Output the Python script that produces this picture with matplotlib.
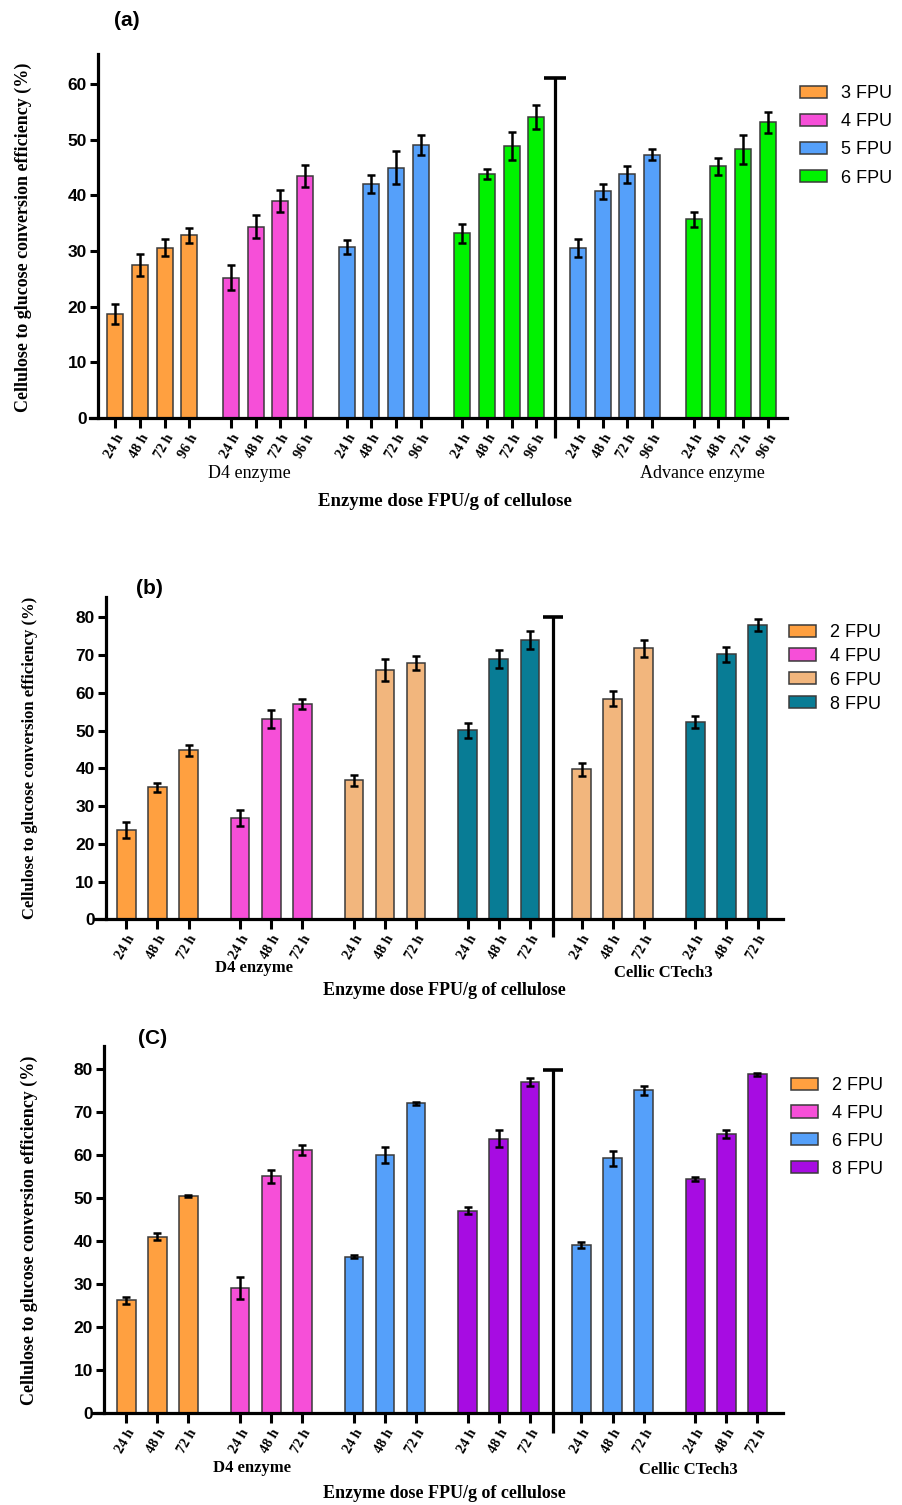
import matplotlib
matplotlib.use('Agg')
import matplotlib.pyplot as plt
from matplotlib.patches import Patch

# ---------------- data ----------------
hours_a = ['24 h', '48 h', '72 h', '96 h']
hours_bc = ['24 h', '48 h', '72 h']

# Panel (a): D4 enzyme 3,4,5,6 FPU ; Advance enzyme 5,6 FPU
a_legend = ['3 FPU', '4 FPU', '5 FPU', '6 FPU']
a_d4_3 = [18.7, 27.5, 30.6, 32.8]
a_d4_3_err = [1.8, 2.0, 1.5, 1.4]
a_d4_4 = [25.2, 34.4, 39.0, 43.5]
a_d4_4_err = [2.2, 2.1, 1.9, 2.0]
a_d4_5 = [30.7, 42.1, 45.0, 49.0]
a_d4_5_err = [1.3, 1.6, 3.0, 1.8]
a_d4_6 = [33.2, 43.8, 48.8, 54.1]
a_d4_6_err = [1.7, 0.9, 2.5, 2.2]
a_adv_5 = [30.6, 40.7, 43.8, 47.3]
a_adv_5_err = [1.6, 1.4, 1.5, 1.0]
a_adv_6 = [35.7, 45.2, 48.3, 53.1]
a_adv_6_err = [1.4, 1.5, 2.6, 1.9]

# Panel (b): D4 enzyme 2,4,6,8 FPU ; Cellic CTech3 6,8 FPU
b_legend = ['2 FPU', '4 FPU', '6 FPU', '8 FPU']
b_d4_2 = [23.6, 35.0, 44.8]
b_d4_2_err = [2.1, 1.2, 1.4]
b_d4_4 = [26.8, 53.0, 57.1]
b_d4_4_err = [2.1, 2.4, 1.3]
b_d4_6 = [36.8, 66.1, 68.0]
b_d4_6_err = [1.4, 3.0, 1.8]
b_d4_8 = [50.1, 69.0, 74.1]
b_d4_8_err = [2.0, 2.3, 2.4]
b_ct_6 = [39.8, 58.5, 71.8]
b_ct_6_err = [1.7, 2.0, 2.3]
b_ct_8 = [52.3, 70.3, 78.0]
b_ct_8_err = [1.6, 2.0, 1.7]

# Panel (c): D4 enzyme 2,4,6,8 FPU ; Cellic CTech3 6,8 FPU
c_legend = ['2 FPU', '4 FPU', '6 FPU', '8 FPU']
c_d4_2 = [26.2, 41.0, 50.5]
c_d4_2_err = [0.8, 0.8, 0.2]
c_d4_4 = [29.1, 55.0, 61.2]
c_d4_4_err = [2.5, 1.5, 1.1]
c_d4_6 = [36.4, 60.0, 72.0]
c_d4_6_err = [0.3, 1.8, 0.4]
c_d4_8 = [47.0, 63.8, 76.9]
c_d4_8_err = [0.8, 2.0, 1.0]
c_ct_6 = [39.1, 59.2, 75.0]
c_ct_6_err = [0.6, 1.8, 1.0]
c_ct_8 = [54.4, 64.9, 78.7]
c_ct_8_err = [0.5, 0.9, 0.3]

ylabel = 'Cellulose to glucose conversion efficiency (%)'
xlabel = 'Enzyme dose FPU/g of cellulose'

# ---------------- style ----------------
ORANGE = '#FFA040'
MAGENTA = '#F64FD8'
BLUE = '#55A0FA'
GREEN = '#00F200'
TAN = '#F2B67D'
TEAL = '#087C95'
PURPLE = '#A70CE2'
EDGE = '#3a3a3a'

SERIF = ['Liberation Serif', 'DejaVu Serif']
SANS = ['Liberation Sans', 'DejaVu Sans']
NARROW = ['Liberation Sans Narrow', 'Liberation Sans', 'DejaVu Sans']

W, H = 902, 1505
fig = plt.figure(figsize=(W / 100, H / 100), dpi=100)


def fx(px):
    return px / W


def fy(py):
    return 1 - py / H


def draw_panel(left_px, right_px, top_px, zero_px, first_px, spacing_px, spine_px,
               stride_px, divider_px, ymax, div_top, div_bottom_px, cap_px,
               groups, colors, hours, barw):
    ax = fig.add_axes([fx(left_px), fy(zero_px), (right_px - left_px) / W,
                       (zero_px - top_px) / H])
    x_lo = (left_px - first_px) / spacing_px
    x_hi = (right_px - first_px) / spacing_px
    stride = stride_px / spacing_px
    n = len(hours)
    ticks, labels = [], []
    for g, (vals, errs) in enumerate(groups):
        xs = [g * stride + i for i in range(n)]
        ax.bar(xs, vals, width=barw, color=colors[g], edgecolor=EDGE,
               linewidth=1.1, zorder=2)
        ax.errorbar(xs, vals, yerr=errs, fmt='none', ecolor='black',
                    elinewidth=1.8, capsize=3, capthick=1.8, zorder=3)
        ticks += xs
        labels += hours
    ax.set_xlim(x_lo, x_hi)
    ax.set_ylim(0, ymax)
    ax.spines['top'].set_visible(False)
    ax.spines['right'].set_visible(False)
    ax.spines['left'].set_position(('data', (spine_px - first_px) / spacing_px))
    for s in ('left', 'bottom'):
        ax.spines[s].set_linewidth(2.3)
    ax.set_yticks(range(0, int(ymax) + 1, 10))
    ax.tick_params(axis='y', length=6, width=2.2, pad=2)
    ax.tick_params(axis='x', length=7, width=2.2, pad=3)
    for t in ax.get_yticklabels():
        t.set_fontfamily(NARROW)
        t.set_fontweight('bold')
        t.set_fontsize(12.5)
    ax.set_xticks(ticks)
    ax.set_xticklabels(labels, rotation=60, ha='right', va='top',
                       rotation_mode='anchor', fontfamily=SERIF,
                       fontweight='bold', fontsize=10.2)
    # divider between enzymes
    xd = (divider_px - first_px) / spacing_px
    ppu = (zero_px - top_px) / ymax
    yb = -(div_bottom_px - zero_px) / ppu
    ax.plot([xd, xd], [yb, div_top], color='black', lw=2.3, clip_on=False,
            zorder=4, solid_capstyle='butt')
    ch = cap_px / spacing_px
    ax.plot([xd - ch, xd + ch], [div_top, div_top], color='black', lw=2.6,
            clip_on=False, zorder=4, solid_capstyle='butt')
    return ax


# ---------------- panel (a) ----------------
draw_panel(left_px=89.6, right_px=787, top_px=54, zero_px=418, first_px=115.3,
           spacing_px=24.67, spine_px=98, stride_px=115.7, divider_px=555,
           ymax=65.4, div_top=61, div_bottom_px=438, cap_px=11,
           groups=[(a_d4_3, a_d4_3_err), (a_d4_4, a_d4_4_err),
                   (a_d4_5, a_d4_5_err), (a_d4_6, a_d4_6_err),
                   (a_adv_5, a_adv_5_err), (a_adv_6, a_adv_6_err)],
           colors=[ORANGE, MAGENTA, BLUE, GREEN, BLUE, GREEN],
           hours=hours_a, barw=0.65)

# ---------------- panel (b) ----------------
draw_panel(left_px=95.4, right_px=783, top_px=596.7, zero_px=919.3, first_px=126.3,
           spacing_px=31.1, spine_px=105.8, stride_px=113.8, divider_px=553,
           ymax=85.5, div_top=80, div_bottom_px=937, cap_px=10,
           groups=[(b_d4_2, b_d4_2_err), (b_d4_4, b_d4_4_err),
                   (b_d4_6, b_d4_6_err), (b_d4_8, b_d4_8_err),
                   (b_ct_6, b_ct_6_err), (b_ct_8, b_ct_8_err)],
           colors=[ORANGE, MAGENTA, TAN, TEAL, TAN, TEAL],
           hours=hours_bc, barw=0.6)

# ---------------- panel (c) ----------------
draw_panel(left_px=92.5, right_px=783, top_px=1046, zero_px=1413.3, first_px=126.3,
           spacing_px=31.1, spine_px=104, stride_px=113.8, divider_px=553,
           ymax=85.3, div_top=79.8, div_bottom_px=1433, cap_px=10,
           groups=[(c_d4_2, c_d4_2_err), (c_d4_4, c_d4_4_err),
                   (c_d4_6, c_d4_6_err), (c_d4_8, c_d4_8_err),
                   (c_ct_6, c_ct_6_err), (c_ct_8, c_ct_8_err)],
           colors=[ORANGE, MAGENTA, BLUE, PURPLE, BLUE, PURPLE],
           hours=hours_bc, barw=0.6)

# ---------------- texts ----------------
fig.text(fx(127), fy(21), '(a)', fontfamily=SANS, fontweight='bold', fontsize=15,
         ha='center', va='center')
fig.text(fx(149), fy(589), '(b)', fontfamily=SANS, fontweight='bold', fontsize=15,
         ha='center', va='center')
fig.text(fx(153), fy(1039), '(C)', fontfamily=SANS, fontweight='bold', fontsize=15,
         ha='center', va='center')

fig.text(fx(23), fy(237), ylabel, rotation=90, fontfamily=SERIF, fontweight='bold',
         fontsize=13, ha='center', va='center')
fig.text(fx(30), fy(758), ylabel, rotation=90, fontfamily=SERIF, fontweight='bold',
         fontsize=12, ha='center', va='center')
fig.text(fx(29), fy(1230), ylabel, rotation=90, fontfamily=SERIF, fontweight='bold',
         fontsize=13, ha='center', va='center')

fig.text(fx(249), fy(474), 'D4 enzyme', fontfamily=SERIF, fontsize=13,
         ha='center', va='center')
fig.text(fx(702), fy(474), 'Advance enzyme', fontfamily=SERIF, fontsize=13,
         ha='center', va='center')
fig.text(fx(445), fy(502), xlabel, fontfamily=SERIF, fontweight='bold', fontsize=13.5,
         ha='center', va='center')

fig.text(fx(254), fy(968), 'D4 enzyme', fontfamily=SERIF, fontweight='bold', fontsize=12,
         ha='center', va='center')
fig.text(fx(663), fy(973), 'Cellic CTech3', fontfamily=SERIF, fontweight='bold',
         fontsize=12, ha='center', va='center')
fig.text(fx(444), fy(991), xlabel, fontfamily=SERIF, fontweight='bold', fontsize=13,
         ha='center', va='center')

fig.text(fx(252), fy(1468), 'D4 enzyme', fontfamily=SERIF, fontweight='bold', fontsize=12,
         ha='center', va='center')
fig.text(fx(688), fy(1470), 'Cellic CTech3', fontfamily=SERIF, fontweight='bold',
         fontsize=12, ha='center', va='center')
fig.text(fx(444), fy(1493), xlabel, fontfamily=SERIF, fontweight='bold', fontsize=13,
         ha='center', va='center')


# ---------------- legends ----------------
def add_legend(labels, colors, x_px, top_px, spacing):
    handles = [Patch(facecolor=c, edgecolor=EDGE, linewidth=1.1) for c in colors]
    fig.legend(handles, labels, loc='upper left',
               bbox_to_anchor=(fx(x_px), fy(top_px)), frameon=False,
               prop={'family': SANS, 'size': 13}, handlelength=1.5,
               handleheight=0.65, handletextpad=0.75, labelspacing=spacing,
               borderpad=0, borderaxespad=0)


add_legend(a_legend, [ORANGE, MAGENTA, BLUE, GREEN], 800, 85, 0.62)
add_legend(b_legend, [ORANGE, MAGENTA, TAN, TEAL], 789, 624, 0.38)
add_legend(c_legend, [ORANGE, MAGENTA, BLUE, PURPLE], 791, 1077, 0.6)

fig.savefig('out.png', dpi=100)
